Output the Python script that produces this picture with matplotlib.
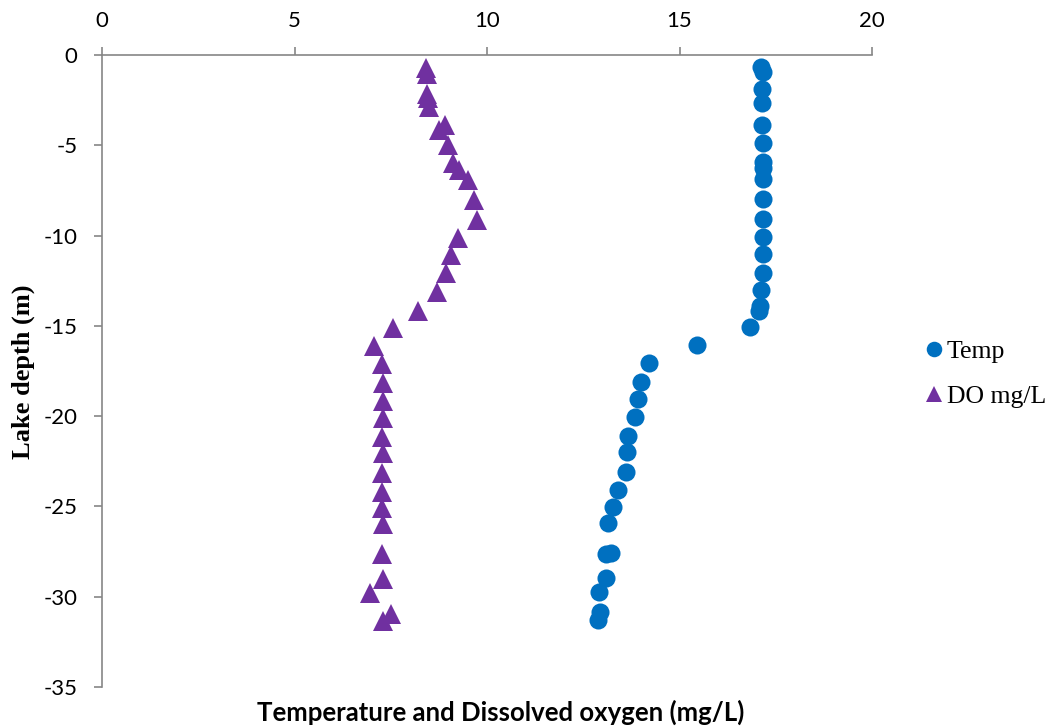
import numpy as np
import matplotlib.pyplot as plt

plt.rcParams['axes.unicode_minus'] = False

# Lake profile: temperature and dissolved oxygen against depth
temp = [17.11, 17.18, 17.15, 17.15, 17.15, 17.16, 17.16, 17.18, 17.18, 17.18,
        17.18, 17.18, 17.18, 17.18, 17.11, 17.09, 17.07, 16.83, 15.46, 14.21,
        13.99, 13.91, 13.84, 13.65, 13.64, 13.61, 13.41, 13.26, 13.15, 13.21,
        13.09, 13.09, 12.92, 12.94, 12.89]
temp_depth = [-0.68, -0.96, -1.9, -2.67, -3.88, -4.85, -5.9, -6.28, -6.88, -7.99,
              -9.1, -10.1, -11.04, -12.09, -13.0, -13.9, -14.2, -15.04, -16.06, -17.07,
              -18.09, -19.07, -20.06, -21.08, -21.98, -23.07, -24.09, -25.05, -25.93, -27.6,
              -27.65, -28.94, -29.75, -30.82, -31.29]

do = [8.42, 8.44, 8.45, 8.47, 8.49, 8.91, 8.76, 8.98, 9.11, 9.26,
      9.5, 9.65, 9.73, 9.24, 9.06, 8.93, 8.69, 8.22, 7.55, 7.06,
      7.26, 7.31, 7.31, 7.29, 7.28, 7.29, 7.26, 7.26, 7.26, 7.29,
      7.26, 7.29, 6.96, 7.5, 7.31]
do_depth = [-0.74, -1.05, -2.18, -2.4, -2.86, -3.88, -4.15, -4.98, -6.0, -6.37,
            -6.92, -8.03, -9.14, -10.15, -11.07, -12.09, -13.1, -14.2, -15.14, -16.09,
            -17.13, -18.18, -19.14, -20.12, -21.17, -22.06, -23.13, -24.18, -25.1, -25.97,
            -27.65, -29.03, -29.81, -30.95, -31.32]

fig = plt.figure(figsize=(10.53, 7.26), dpi=100)
ax = fig.add_axes([102 / 1053, 1 - 687 / 726, 770 / 1053, 632 / 726])

ax.plot(temp, temp_depth, 'o', color='#0070C0', markersize=13,
        markeredgewidth=0, label='Temp', clip_on=False)
ax.plot(do, do_depth, '^', color='#7030A0', markersize=14,
        markeredgewidth=0, label='DO mg/L', clip_on=False)

ax.set_xlim(0, 20)
ax.set_ylim(-35, 0)
ax.set_xticks(np.arange(0, 21, 5))
ax.set_yticks(np.arange(-35, 1, 5))

ax.xaxis.tick_top()
for s in ['right', 'bottom']:
    ax.spines[s].set_visible(False)
for s in ['left', 'top']:
    ax.spines[s].set_color('#868686')
    ax.spines[s].set_linewidth(1.2)
ax.tick_params(axis='both', direction='out', length=5.5, width=1.2, color='#868686',
               labelsize=16, labelcolor='black')
ax.tick_params(axis='x', pad=11.5)
ax.tick_params(axis='y', pad=12)
for lab in ax.get_xticklabels() + ax.get_yticklabels():
    lab.set_family('Lato')

fig.text(501 / 1053, 1 - 712 / 726, 'Temperature and Dissolved oxygen (mg/L)',
         ha='center', va='center', fontsize=18.5, fontweight='bold', family='Lato')
fig.text(23 / 1053, 1 - 372 / 726, 'Lake depth (m)', rotation=90,
         ha='center', va='center', fontsize=19, fontweight='bold', family='Liberation Serif')

fig.legend(loc='center left', bbox_to_anchor=(921 / 1053, 1 - 374 / 726), frameon=False,
           prop={'family': 'Liberation Serif', 'size': 18.5}, handletextpad=0.0,
           handlelength=1.0, labelspacing=0.82, markerscale=0.86, borderpad=0,
           borderaxespad=0)

fig.savefig('out.png', dpi=100)
